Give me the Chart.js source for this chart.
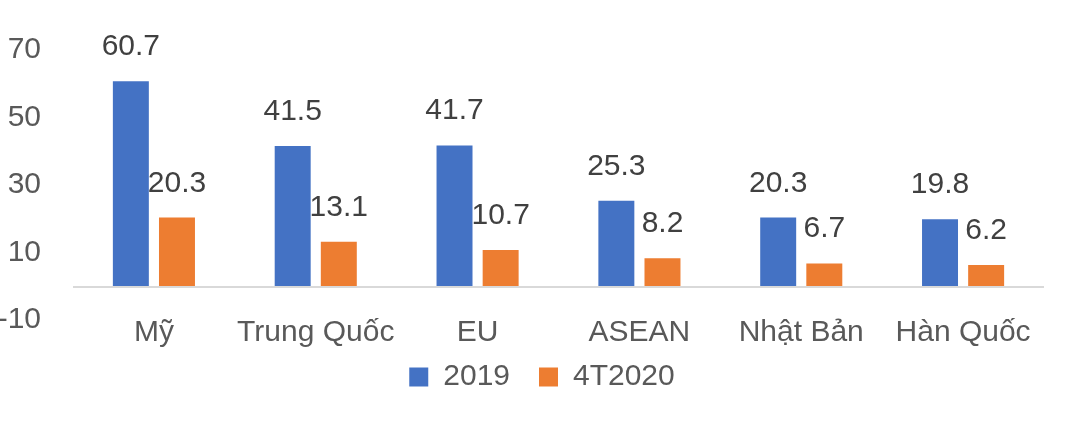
<!DOCTYPE html>
<html>
<head>
<meta charset="utf-8">
<script src="https://cdn.jsdelivr.net/npm/chart.js@4/dist/chart.umd.min.js"></script>
<style>
html,body{margin:0;padding:0;background:#fff;}
#wrap{width:1077px;height:421px;}
</style>
</head>
<body>
<div id="wrap"><canvas id="c" width="1077" height="421"></canvas></div>
<script>
const categories = ["Mỹ", "Trung Quốc", "EU", "ASEAN", "Nhật Bản", "Hàn Quốc"];
const series2019 = [60.7, 41.5, 41.7, 25.3, 20.3, 19.8];
const series4T2020 = [20.3, 13.1, 10.7, 8.2, 6.7, 6.2];
const seriesNames = ["2019", "4T2020"];
const yTicks = [-10, 10, 30, 50, 70];

const FONT = "'Liberation Sans', Arial, sans-serif";

const zeroLine = {
  id: 'zeroLine',
  beforeDatasetsDraw(chart) {
    const {ctx, chartArea, scales} = chart;
    const y = scales.y.getPixelForValue(0);
    ctx.save();
    ctx.strokeStyle = '#d9d9d9';
    ctx.lineWidth = 2;
    ctx.beginPath();
    ctx.moveTo(chartArea.left, y + 1);
    ctx.lineTo(chartArea.right, y + 1);
    ctx.stroke();
    ctx.restore();
  }
};

const dataLabels = {
  id: 'dataLabels',
  afterDatasetsDraw(chart) {
    const {ctx} = chart;
    ctx.save();
    ctx.font = "30px " + FONT;
    ctx.fillStyle = '#404040';
    ctx.textAlign = 'center';
    ctx.textBaseline = 'alphabetic';
    chart.data.datasets.forEach((ds, i) => {
      const meta = chart.getDatasetMeta(i);
      meta.data.forEach((bar, j) => {
        ctx.fillText(ds.data[j].toFixed(1), bar.x, bar.y - 26);
      });
    });
    ctx.restore();
  }
};

const legendShift = {
  id: 'legendShift',
  afterLayout(chart) {
    if (chart.legend) chart.legend.left += 40;
  }
};

new Chart(document.getElementById('c'), {
  type: 'bar',
  data: {
    labels: categories,
    datasets: [
      {label: seriesNames[0], data: series2019, backgroundColor: '#4472C4', categoryPercentage: 0.57, barPercentage: 0.78},
      {label: seriesNames[1], data: series4T2020, backgroundColor: '#ED7D31', categoryPercentage: 0.57, barPercentage: 0.78}
    ]
  },
  options: {
    responsive: false,
    animation: false,
    layout: {padding: {top: 34, right: 33, left: 0, bottom: 19}},
    plugins: {
      tooltip: {enabled: false},
      legend: {
        position: 'bottom',
        labels: {
          boxWidth: 19, boxHeight: 19, padding: 29,
          color: '#595959',
          font: {family: FONT, size: 30}
        }
      }
    },
    scales: {
      x: {
        grid: {display: false, drawTicks: false},
        border: {display: false},
        ticks: {color: '#595959', font: {family: FONT, size: 30}, padding: 29, maxRotation: 0},
        afterFit(scale) {
          scale.height = 47;
          scale._computeLabelArea = function () { return undefined; };
        }
      },
      y: {
        min: 0, max: 70,
        grid: {display: false, drawTicks: false},
        border: {display: false},
        ticks: {color: '#595959', font: {family: FONT, size: 30}, padding: 32},
        afterBuildTicks(scale) { scale.ticks = yTicks.map(v => ({value: v})); },
        afterFit(scale) { scale.width = 73; }
      }
    }
  },
  plugins: [zeroLine, dataLabels, legendShift]
});
</script>
</body>
</html>
